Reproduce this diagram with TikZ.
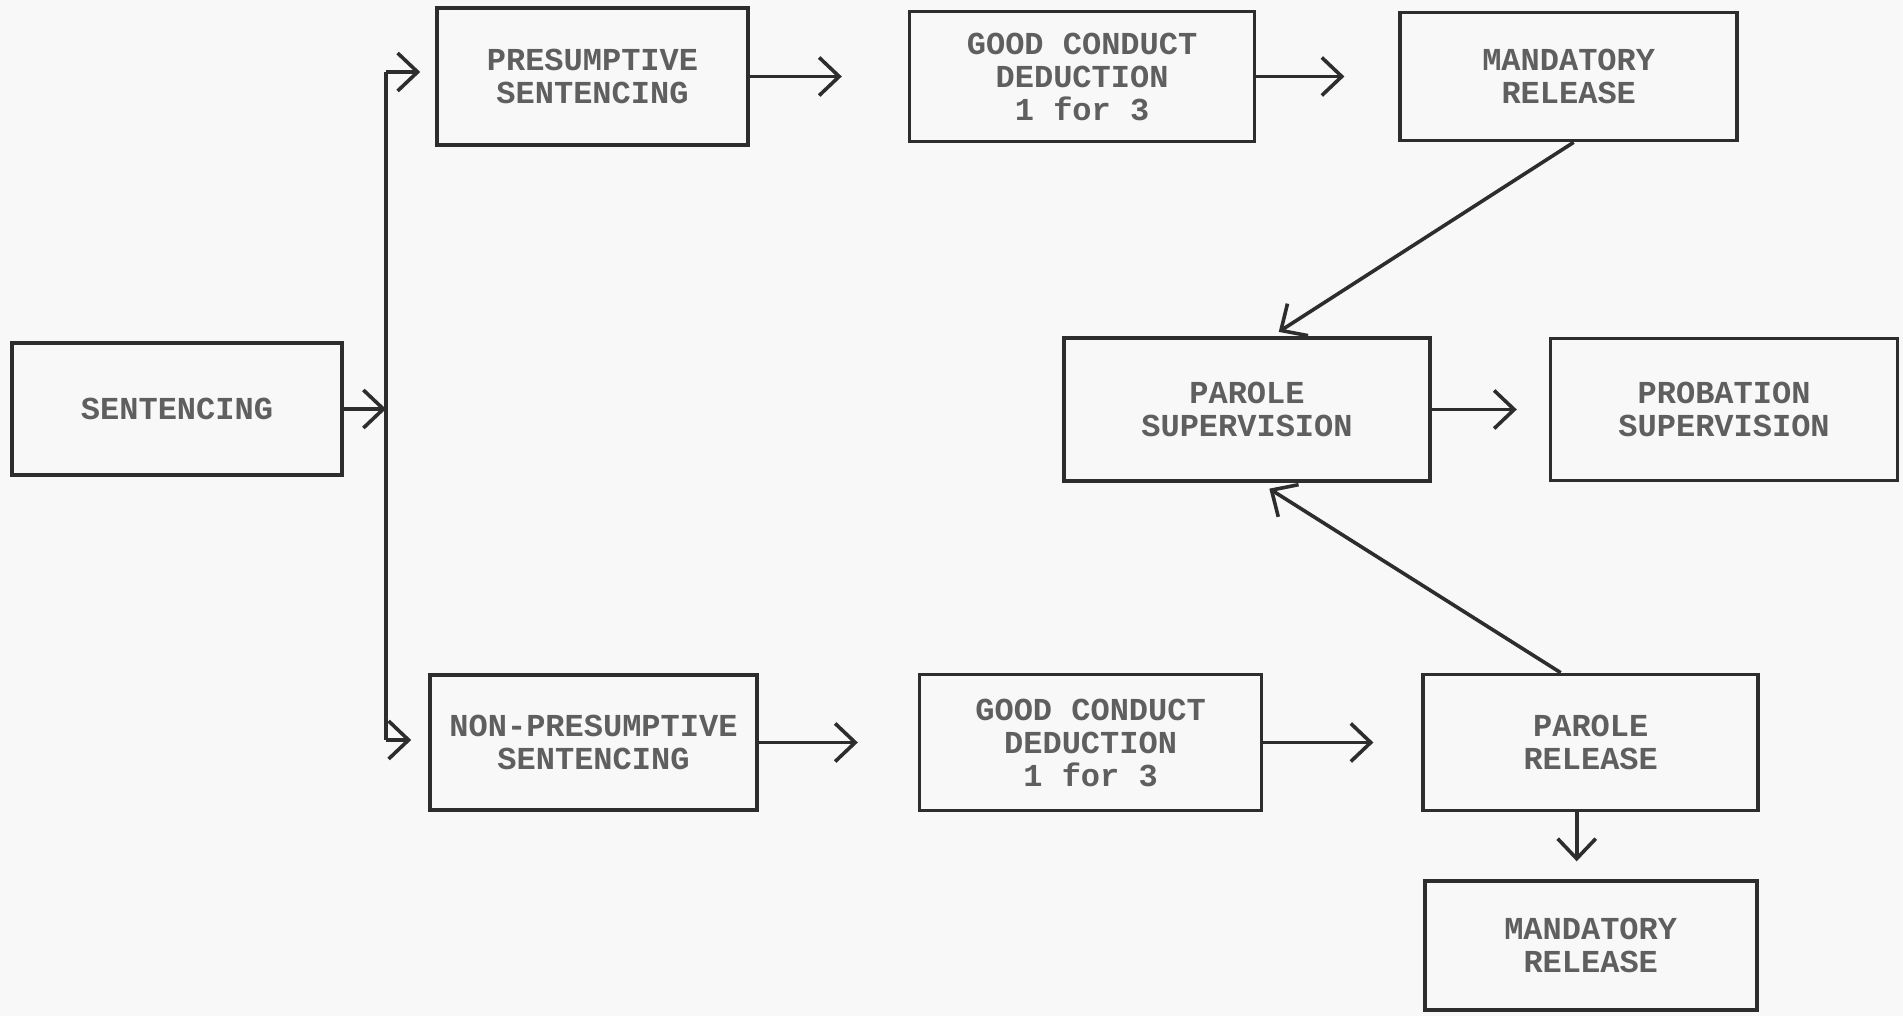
\documentclass[tikz,border=0pt]{standalone}
\usepackage{fontspec}
\setmonofont{Liberation Mono}
\usepackage{tikz}
\usetikzlibrary{arrows.meta,positioning}
\definecolor{linecol}{RGB}{45,45,45}
\definecolor{textcol}{RGB}{95,95,95}
\definecolor{papercol}{RGB}{248,248,248}
\tikzset{>/.tip={Straight Barb[length=10pt,width=19pt,line width=1.8pt]}}

\begin{document}
\begin{tikzpicture}[x=0.5pt,y=-0.5pt,
    box/.style={draw=linecol,line width=1.8pt,text=textcol,align=center,inner sep=0pt,
      font=\fontsize{16}{16.5}\selectfont\ttfamily\bfseries},
    link/.style={draw=linecol,line width=1.8pt,->},
    gap/.style={shorten >=#1}]
  \path[use as bounding box,fill=papercol] (0,0) rectangle (1903,1016);

  \node[box,minimum width=165pt,minimum height=66pt] (sent) at (177,409) {SENTENCING};
  \node[box,minimum width=155.5pt,minimum height=68.5pt] (pres) at (592.5,76.5) {PRESUMPTIVE\\SENTENCING};
  \node[box,minimum width=172.5pt,minimum height=65pt,right=79pt of pres] (gcd1) {GOOD CONDUCT\\DEDUCTION\\1 for 3};
  \node[box,minimum width=168.5pt,minimum height=64pt,right=71pt of gcd1] (mand1) {MANDATORY\\RELEASE};
  \node[box,minimum width=183pt,minimum height=71.5pt] (parsup) at (1247,409.5) {PAROLE\\SUPERVISION};
  \node[box,minimum width=173.5pt,minimum height=71pt,right=58.5pt of parsup] (prob) {PROBATION\\SUPERVISION};
  \node[box,minimum width=163.5pt,minimum height=67.5pt] (nonpres) at (593.5,742.5) {NON-PRESUMPTIVE\\SENTENCING};
  \node[box,minimum width=171pt,minimum height=68pt,right=79.5pt of nonpres] (gcd2) {GOOD CONDUCT\\DEDUCTION\\1 for 3};
  \node[box,minimum width=167.5pt,minimum height=68pt,right=79pt of gcd2] (parrel) {PAROLE\\RELEASE};
  \node[box,minimum width=166pt,minimum height=64.5pt,below=33.5pt of parrel] (mand2) {MANDATORY\\RELEASE};

  \coordinate (trunkT) at (386,72);
  \coordinate (trunkB) at (386,740);

  \draw[linecol,line width=1.8pt] (trunkT) -- (trunkB);
  \draw[link] (sent.east) -- (sent.east -| trunkT);
  \draw[link,gap=7.5pt] (trunkT) -- (trunkT -| pres.west);
  \draw[link,gap=8.5pt] (trunkB) -- (trunkB -| nonpres.west);
  \draw[link,gap=33pt] (pres.east) -- (pres.east -| gcd1.west);
  \draw[link,gap=27pt] (gcd1.east) -- (gcd1.east -| mand1.west);
  \draw[link,gap=4pt] ([xshift=2.5pt]mand1.south) -- ([xshift=12.5pt]parsup.north);
  \draw[link,gap=16pt] (parsup.east) -- (parsup.east -| prob.west);
  \draw[link,gap=30pt] (nonpres.east) -- (nonpres.east -| gcd2.west);
  \draw[link,gap=24pt] (gcd2.east) -- (gcd2.east -| parrel.west);
  \draw[link,gap=5.5pt] ([xshift=-15pt]parrel.north) -- ([xshift=6.5pt]parsup.south);
  \draw[link,gap=9pt] ([xshift=-7pt]parrel.south) -- ([xshift=-7pt]parrel.south |- mand2.north);
\end{tikzpicture}
\end{document}
